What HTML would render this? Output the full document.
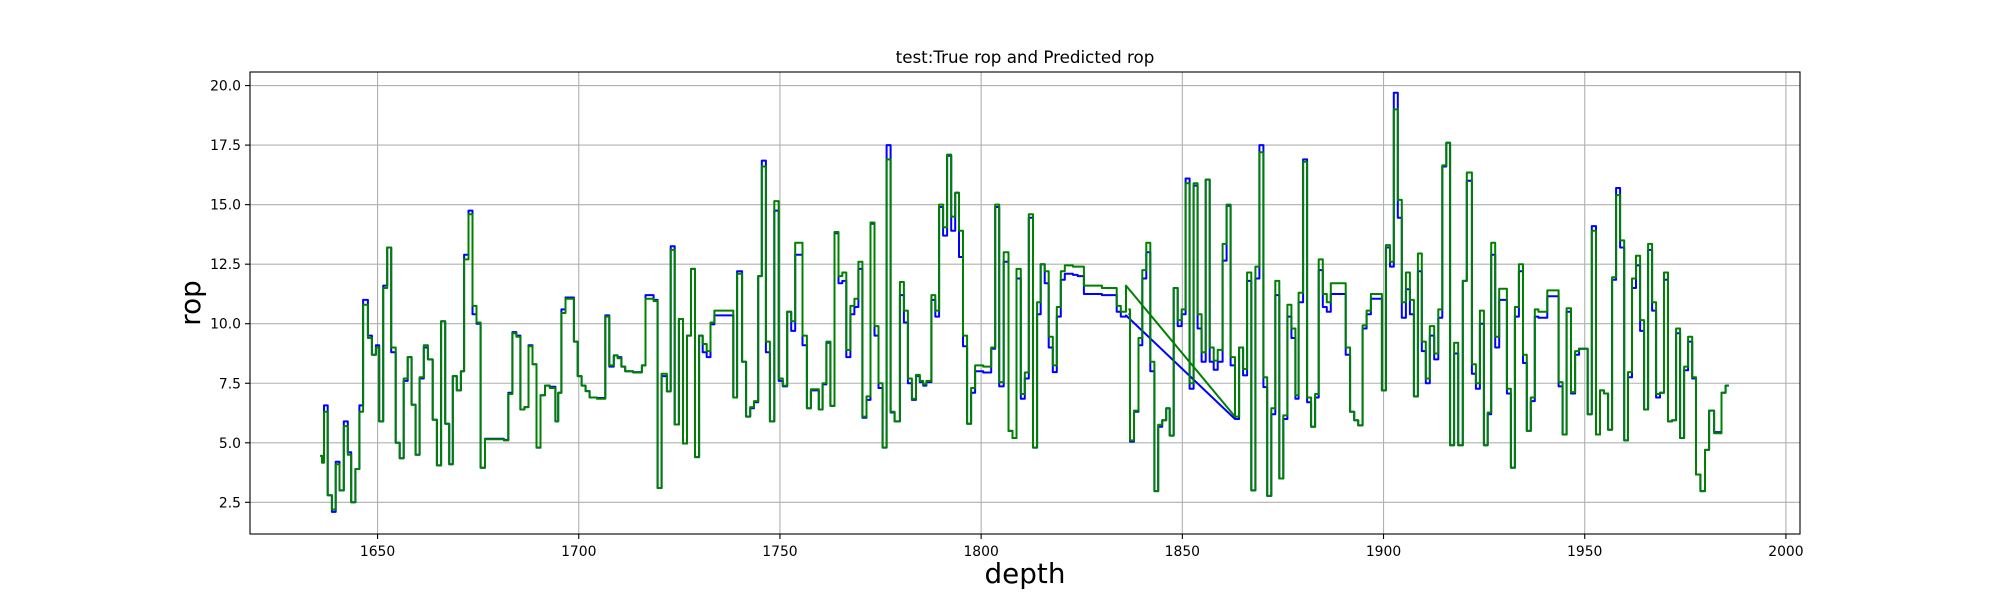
<!DOCTYPE html>
<html>
<head>
<meta charset="utf-8">
<style>
html,body{margin:0;padding:0;background:#fff;}
svg{display:block;}
text{font-family:"DejaVu Sans","Liberation Sans",sans-serif;fill:#000;}
</style>
</head>
<body>
<svg id="chart" width="2000" height="600" viewBox="0 0 2000 600">
  <rect x="0" y="0" width="2000" height="600" fill="#fff"/>
  <g id="grid"></g>
  <g id="series"></g>
  <rect x="250" y="72" width="1550" height="462" fill="none" stroke="#000" stroke-width="1.1"/>
  <g id="ticks"></g>
  <text x="1025" y="63" font-size="16.7" text-anchor="middle">test:True rop and Predicted rop</text>
  <text x="1025" y="583" font-size="27.8" text-anchor="middle">depth</text>
  <text x="0" y="0" font-size="27.8" text-anchor="middle" transform="translate(200,303) rotate(-90)">rop</text>
</svg>
<script>
const xTicks = [1650, 1700, 1750, 1800, 1850, 1900, 1950, 2000];
const yTicks = [2.5, 5.0, 7.5, 10.0, 12.5, 15.0, 17.5, 20.0];
const yTickLabels = ["2.5", "5.0", "7.5", "10.0", "12.5", "15.0", "17.5", "20.0"];

// Part 1 (step levels: start depth, true value, predicted value)
const depthsA = [1635.75,1636.2,1636.7,1637.6,1638.65,1639.6,1640.55,1641.6,1642.6,1643.45,1644.5,1645.5,1646.4,1647.6,1648.6,1649.6,1650.4,1651.4,1652.4,1653.4,1654.5,1655.5,1656.5,1657.5,1658.45,1659.45,1660.45,1661.5,1662.5,1663.7,1664.75,1665.8,1666.8,1667.8,1668.7,1669.7,1670.7,1671.5,1672.6,1673.6,1674.6,1675.6,1676.7,1681.4,1682.5,1683.5,1684.5,1685.5,1686.5,1687.5,1688.5,1689.5,1690.5,1691.6,1692.8,1694.2,1694.9,1695.7,1696.7,1698.8,1699.75,1700.7,1701.7,1702.7,1704.5,1706.6,1707.6,1708.7,1709.65,1710.6,1711.55,1713.5,1715.7,1716.6,1718.6,1719.6,1720.6,1721.9,1722.85,1723.85,1724.9,1725.9,1726.9,1727.9,1728.9,1729.9,1730.8,1731.8,1732.75,1733.7,1738.4,1739.35,1740.6,1741.6,1742.6,1743.55,1744.6,1745.5,1746.5,1747.5,1748.6,1749.7,1750.7,1751.8,1752.8,1753.8,1755.6,1756.7,1757.7,1759.65,1760.6,1761.55,1762.55,1763.55,1764.55,1765.5,1766.5,1767.5,1768.5,1769.5,1770.5,1771.5,1772.5,1773.5,1774.5,1775.5,1776.5,1777.5,1778.5,1779.8,1780.8,1781.8,1782.8,1783.8,1784.75,1785.6,1786.4,1787.65,1788.6,1789.55,1790.55,1791.55,1792.55,1793.55,1794.5,1795.5,1796.5,1797.5,1798.5,1800.5,1802.5,1803.5,1804.5,1805.6,1806.8,1807.8,1808.8,1809.85,1810.85,1811.85,1812.9,1813.9,1814.8,1815.8,1816.8,1817.8,1818.8,1819.8,1820.8,1822.8,1824.0,1825.55,1830,1833.7,1834.7];
const trueA = [4.45,4.17,6.57,2.8,2.1,4.2,3.0,5.9,4.6,2.5,3.9,6.57,11.0,9.5,8.7,9.1,5.9,11.6,13.2,8.8,5.0,4.35,7.6,8.6,6.6,4.5,7.7,9.0,8.5,5.97,4.05,10.1,5.8,4.1,7.8,7.2,8.0,12.9,14.75,10.4,10.0,3.95,5.17,5.12,7.1,9.65,9.5,6.4,6.5,9.1,8.3,4.8,7.0,7.4,7.35,5.9,7.1,10.6,11.1,9.25,7.8,7.4,7.17,6.9,6.88,10.35,8.2,8.67,8.6,8.2,8.0,7.97,8.25,11.2,11.0,3.1,7.8,7.16,13.25,5.77,10.2,4.97,9.5,12.3,4.4,9.5,8.8,8.6,9.97,10.35,6.9,12.2,8.4,6.1,6.45,6.7,12.0,16.85,8.8,5.9,14.75,7.6,7.37,10.5,9.7,12.9,9.1,6.45,7.2,6.4,7.45,9.2,6.55,13.8,11.7,11.8,8.6,10.4,10.7,12.3,6.05,6.8,14.2,9.5,7.3,4.8,17.5,6.27,5.9,11.2,10.05,7.5,6.8,7.8,7.55,7.4,7.55,11.0,10.3,14.9,13.7,17.05,13.9,15.5,12.8,9.05,5.8,7.1,8.0,7.95,8.95,14.9,7.37,12.6,5.5,5.2,11.9,6.85,7.7,14.45,4.8,10.4,12.5,11.7,9.0,7.97,10.3,11.85,12.1,12.05,12.0,11.25,11.2,10.5,10.3];
const predA = [4.45,4.17,6.3,2.8,2.2,4.1,3.0,5.7,4.5,2.5,3.9,6.3,10.8,9.4,8.7,9.0,5.9,11.5,13.2,9.0,5.0,4.35,7.7,8.6,6.6,4.5,7.75,9.1,8.5,5.97,4.05,10.1,5.8,4.1,7.8,7.2,8.0,12.7,14.6,10.75,10.05,3.95,5.15,5.1,7.05,9.6,9.45,6.4,6.5,9.05,8.3,4.8,7.0,7.4,7.3,5.9,7.1,10.45,11.05,9.25,7.8,7.4,7.17,6.9,6.85,10.3,8.25,8.67,8.55,8.2,8.0,7.95,8.25,11.05,10.95,3.1,7.9,7.16,13.1,5.77,10.2,4.97,9.5,12.3,4.4,9.5,9.15,8.85,10.05,10.55,6.9,12.1,8.4,6.1,6.5,6.75,12.0,16.6,9.25,5.9,15.15,7.7,7.4,10.5,10.1,13.4,9.5,6.45,7.25,6.4,7.5,9.25,6.55,13.85,12.0,12.15,8.9,10.75,11.05,12.6,6.1,6.95,14.25,9.9,7.5,4.8,16.9,6.3,5.9,11.75,10.55,7.7,6.85,7.85,7.6,7.45,7.6,11.2,10.55,15.0,14.05,17.1,14.5,15.5,13.9,9.5,5.8,7.3,8.25,8.2,9.0,15.0,7.55,13.0,5.5,5.2,12.3,7.05,7.95,14.6,4.8,10.9,12.5,12.2,9.45,8.25,10.7,12.2,12.45,12.4,12.4,11.6,11.5,10.75,10.5];
const endA = 1836.0;
const jumpFromTrue = 10.35;
const jumpFromPred = 11.6;
const jumpToDepth = 1863.1;
const jumpToTrue = 6.0;
const jumpToPred = 6.1;

// Part 2
const depthsB = [1836.6,1837.0,1838.0,1839.1,1840.05,1841.05,1842.05,1843.05,1844.0,1845.0,1846.0,1846.85,1847.85,1848.85,1849.85,1850.8,1851.8,1852.8,1853.8,1854.8,1855.8,1856.8,1857.8,1858.8,1860.0,1861.0,1862.0,1863.1,1864.1,1865.1,1866.1,1867.15,1868.15,1869.15,1870.15,1871.1,1872.1,1873.1,1874.1,1875.1,1876.1,1877.1,1878.1,1878.9,1880.0,1881.0,1882.0,1883.0,1883.9,1884.9,1885.9,1886.9,1890.6,1891.7,1892.7,1893.7,1894.8,1895.8,1896.85,1899.6,1900.6,1901.6,1902.55,1903.55,1904.55,1905.55,1906.55,1907.55,1908.55,1909.5,1910.5,1911.5,1912.6,1913.6,1914.6,1915.6,1916.55,1917.55,1918.55,1919.7,1920.7,1921.95,1922.95,1923.95,1924.95,1925.9,1926.75,1927.75,1928.75,1930.65,1931.65,1932.65,1933.65,1934.65,1935.6,1936.6,1937.6,1938.5,1940.7,1943.5,1944.5,1945.5,1946.6,1947.6,1948.6,1950.75,1951.75,1952.8,1953.8,1954.8,1955.8,1956.8,1957.8,1958.8,1959.8,1960.75,1961.75,1962.75,1963.75,1964.75,1965.75,1966.75,1967.75,1968.7,1969.7,1970.7,1971.7,1972.7,1973.7,1974.7,1975.7,1976.7,1977.65,1978.75,1979.9,1980.9,1982.15,1984.0,1985.0];
const trueB = [10.4,5.05,6.3,9.1,11.9,13.0,8.0,2.97,5.67,5.95,6.45,5.3,11.5,9.9,10.4,16.1,7.27,15.8,9.8,8.4,16.05,8.4,8.07,8.4,12.65,14.95,8.25,6.0,9.0,7.83,11.8,3.0,11.9,17.5,7.34,2.77,6.2,11.2,3.5,6.0,10.3,9.4,6.85,10.9,16.9,6.7,5.67,6.9,12.25,10.7,10.5,11.25,8.7,6.3,5.95,5.73,9.8,10.4,11.05,7.2,13.2,12.4,19.7,14.45,10.25,11.45,10.4,6.95,12.2,8.85,7.5,9.5,8.5,10.25,16.6,17.6,4.9,8.75,4.9,11.8,16.0,7.9,7.27,10.0,4.9,6.2,12.9,9.0,11.0,7.07,3.95,10.3,12.2,8.35,5.5,6.75,10.3,10.25,11.15,7.37,5.35,10.5,7.07,8.7,8.95,6.2,14.1,5.35,7.2,7.07,5.55,11.85,15.7,13.2,5.1,7.75,11.5,12.45,9.7,6.4,13.1,10.55,6.9,7.1,11.85,5.9,5.95,9.6,5.2,8.05,9.25,7.7,3.67,2.97,4.7,6.35,5.45,7.1,7.4];
const predB = [10.6,5.1,6.35,9.4,12.25,13.4,8.4,2.97,5.76,5.95,6.45,5.3,11.5,10.15,10.6,15.9,7.5,15.9,10.4,8.8,16.05,9.0,8.45,8.9,13.35,15.0,8.6,6.1,9.0,8.1,12.15,3.0,12.4,17.2,7.75,2.77,6.45,11.8,3.5,6.15,10.8,9.8,7.0,11.3,16.8,6.9,5.67,7.05,12.7,11.25,10.9,11.7,9.0,6.3,5.95,5.73,9.93,10.55,11.25,7.2,13.3,12.6,19.0,15.2,10.9,12.15,11.0,6.95,12.95,9.25,7.7,9.9,8.75,10.6,16.65,17.6,4.9,9.2,4.9,11.8,16.35,8.3,7.5,10.55,4.9,6.27,13.4,9.45,11.47,7.27,3.95,10.7,12.5,8.7,5.5,6.9,10.6,10.5,11.4,7.55,5.35,10.65,7.13,8.85,8.95,6.2,13.9,5.35,7.2,7.07,5.55,11.95,15.4,13.5,5.1,7.97,11.9,12.85,10.15,6.4,13.35,10.9,7.05,7.1,12.15,5.9,5.95,9.8,5.2,8.2,9.45,7.75,3.67,2.97,4.7,6.35,5.4,7.1,7.4];
const endB = 1985.8;

const X0 = 250, X1 = 1800, Y0 = 534, Y1 = 72;
const xMin = 1618.3, xMax = 2003.5, yMin = 1.17, yMax = 20.57;
function xs(d){ return X0 + (d - xMin) / (xMax - xMin) * (X1 - X0); }
function ys(v){ return Y0 - (v - yMin) / (yMax - yMin) * (Y0 - Y1); }

const NS = "http://www.w3.org/2000/svg";
const grid = document.getElementById('grid');
const ticks = document.getElementById('ticks');
const series = document.getElementById('series');

xTicks.forEach(t => {
  const x = xs(t);
  const g = document.createElementNS(NS, 'line');
  g.setAttribute('x1', x); g.setAttribute('x2', x); g.setAttribute('y1', Y1); g.setAttribute('y2', Y0);
  g.setAttribute('stroke', '#b0b0b0'); g.setAttribute('stroke-width', '1.1');
  
  
  grid.appendChild(g);
  const tk = document.createElementNS(NS, 'line');
  tk.setAttribute('x1', x); tk.setAttribute('x2', x); tk.setAttribute('y1', Y0); tk.setAttribute('y2', Y0 + 5);
  tk.setAttribute('stroke', '#000'); tk.setAttribute('stroke-width', '1.1');
  
  
  ticks.appendChild(tk);
  const tx = document.createElementNS(NS, 'text');
  tx.setAttribute('x', x); tx.setAttribute('y', Y0 + 22); tx.setAttribute('font-size', '13.9'); tx.setAttribute('text-anchor', 'middle');
  tx.textContent = String(t);
  
  
  ticks.appendChild(tx);
});
yTicks.forEach((t, i) => {
  const y = ys(t);
  const g = document.createElementNS(NS, 'line');
  g.setAttribute('x1', X0); g.setAttribute('x2', X1); g.setAttribute('y1', y); g.setAttribute('y2', y);
  g.setAttribute('stroke', '#b0b0b0'); g.setAttribute('stroke-width', '1.1');
  
  
  grid.appendChild(g);
  const tk = document.createElementNS(NS, 'line');
  tk.setAttribute('x1', X0 - 5); tk.setAttribute('x2', X0); tk.setAttribute('y1', y); tk.setAttribute('y2', y);
  tk.setAttribute('stroke', '#000'); tk.setAttribute('stroke-width', '1.1');
  
  
  ticks.appendChild(tk);
  const tx = document.createElementNS(NS, 'text');
  tx.setAttribute('x', X0 - 9); tx.setAttribute('y', y + 5); tx.setAttribute('font-size', '13.9'); tx.setAttribute('text-anchor', 'end');
  tx.textContent = yTickLabels[i];
  
  
  ticks.appendChild(tx);
});

function stepPts(depths, vals, endD){
  const pts = [];
  for (let i = 0; i < depths.length; i++) {
    const next = i + 1 < depths.length ? depths[i + 1] : endD;
    pts.push([xs(depths[i]), ys(vals[i])]);
    pts.push([xs(next), ys(vals[i])]);
  }
  return pts;
}
function addLine(pts, color, name){
  const p = document.createElementNS(NS, 'polyline');
  p.setAttribute('points', pts.map(q => q[0].toFixed(1) + ',' + q[1].toFixed(1)).join(' '));
  p.setAttribute('fill', 'none'); p.setAttribute('stroke', color); p.setAttribute('stroke-width', '2');
  p.setAttribute('stroke-linejoin', 'round');
  
  
  series.appendChild(p);
}
const tA = stepPts(depthsA, trueA, endA);
tA.push([xs(endA), ys(jumpFromTrue)]);
tA.push([xs(jumpToDepth), ys(jumpToTrue)]);
const pA = stepPts(depthsA, predA, endA);
pA.push([xs(endA), ys(jumpFromPred)]);
pA.push([xs(jumpToDepth), ys(jumpToPred)]);
addLine(tA, '#0000ff', 'true-rop-line-part1');
addLine(stepPts(depthsB, trueB, endB), '#0000ff', 'true-rop-line-part2');
addLine(pA, '#008000', 'predicted-rop-line-part1');
addLine(stepPts(depthsB, predB, endB), '#008000', 'predicted-rop-line-part2');
</script>
</body>
</html>
